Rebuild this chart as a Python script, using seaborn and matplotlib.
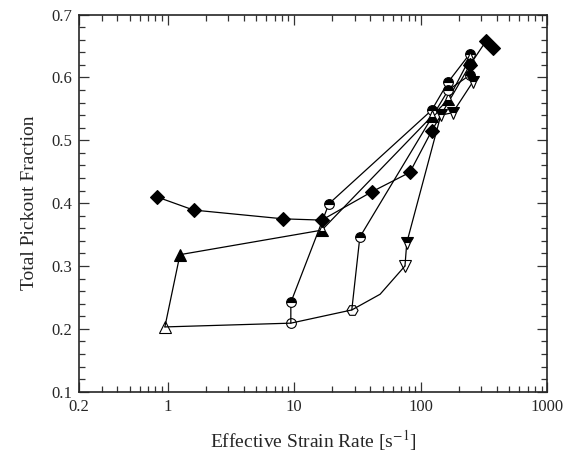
import numpy as np
import pandas as pd
import seaborn as sns
import matplotlib.pyplot as plt
from matplotlib.ticker import FixedLocator, NullFormatter, MultipleLocator

# ---- data ----
circ_x = [9.4, 9.4, 18.8, 122, 165, 245]
circ_y = [0.209, 0.242, 0.399, 0.548, 0.593, 0.638]

tri_x = [0.95, 1.25, 16.5, 122, 165, 245]
tri_y = [0.203, 0.318, 0.357, 0.538, 0.565, 0.631]

hex_x = [28.5, 33, 165, 245]
hex_y = [0.230, 0.346, 0.580, 0.604]

dtri_x = [75, 77.5, 144, 179, 258]
dtri_y = [0.300, 0.337, 0.540, 0.544, 0.593]

dia_x = [0.82, 1.6, 8.2, 16.5, 41, 82, 122, 245, 328, 371]
dia_y = [0.410, 0.389, 0.375, 0.373, 0.418, 0.449, 0.515, 0.620, 0.658, 0.6465]

base_x = [0.95, 9.4, 28.5, 47.7, 75]
base_y = [0.203, 0.209, 0.230, 0.255, 0.300]

xticks = [0.2, 1, 10, 100, 1000]
xtick_labels = ['0.2', '1', '10', '100', '1000']

sns.set_style('ticks')
plt.rcParams['font.family'] = ['Liberation Serif', 'DejaVu Serif']
plt.rcParams['mathtext.fontset'] = 'stix'

fig = plt.figure(figsize=(5.66, 4.57), dpi=100)
ax = fig.add_axes([0.140, 0.143, 0.827, 0.825])

lw = 0.9
line_kw = dict(estimator=None, sort=False, color='black', linewidth=lw, ax=ax, legend=False)

# connecting lines
for xs, ys in [(base_x, base_y), (circ_x, circ_y), (tri_x, tri_y),
               (hex_x, hex_y), (dtri_x, dtri_y), (dia_x, dia_y)]:
    sns.lineplot(x=xs, y=ys, **line_kw)


def marks(xs, ys, marker, fill, ms=7):
    sns.lineplot(x=xs, y=ys, estimator=None, sort=False, ax=ax, legend=False,
                 linestyle='none', marker=marker, markersize=ms, fillstyle=fill,
                 markerfacecolor='black', markerfacecoloralt='white',
                 markeredgecolor='black', markeredgewidth=0.8, color='black')


# circles
marks(circ_x[:1], circ_y[:1], 'o', 'none')
marks(circ_x[1:], circ_y[1:], 'o', 'top')
# triangles
marks(tri_x[:1], tri_y[:1], '^', 'none', 8)
marks(tri_x[1:2], tri_y[1:2], '^', 'full', 8)
marks(tri_x[2:], tri_y[2:], '^', 'bottom', 8)
# hexagon series
marks(hex_x[:1], hex_y[:1], 'H', 'none', 8)
marks(hex_x[1:], hex_y[1:], 'o', 'top')
# down triangles
marks(dtri_x[:1], dtri_y[:1], 'v', 'none', 9)
marks(dtri_x[1:], dtri_y[1:], 'v', 'top', 8)
# diamonds
marks(dia_x, dia_y, 'D', 'full', 7)

ax.set_xscale('log')
ax.set_xlim(0.2, 1000)
ax.set_ylim(0.1, 0.7)
ax.xaxis.set_major_locator(FixedLocator(xticks))
ax.set_xticklabels(xtick_labels)
minors = [v * d for d in [0.1, 1, 10, 100] for v in range(2, 10) if 0.2 < v * d < 1000]
ax.xaxis.set_minor_locator(FixedLocator(minors))
ax.xaxis.set_minor_formatter(NullFormatter())
ax.yaxis.set_major_locator(MultipleLocator(0.1))
ax.yaxis.set_minor_locator(MultipleLocator(0.02))
ax.yaxis.set_major_formatter(plt.FormatStrFormatter('%.1f'))

ax.tick_params(which='both', direction='in', top=True, right=True, labelsize=12,
               width=0.9, color='#333333')
ax.tick_params(which='major', length=7, pad=5)
ax.tick_params(which='minor', length=4)
for s in ax.spines.values():
    s.set_linewidth(1.2)

ax.set_xlabel(r'Effective Strain Rate [s$^{-1}$]', fontsize=14, labelpad=10)
ax.set_ylabel('Total Pickout Fraction', fontsize=14, labelpad=10)

fig.savefig('out.png', dpi=100)
